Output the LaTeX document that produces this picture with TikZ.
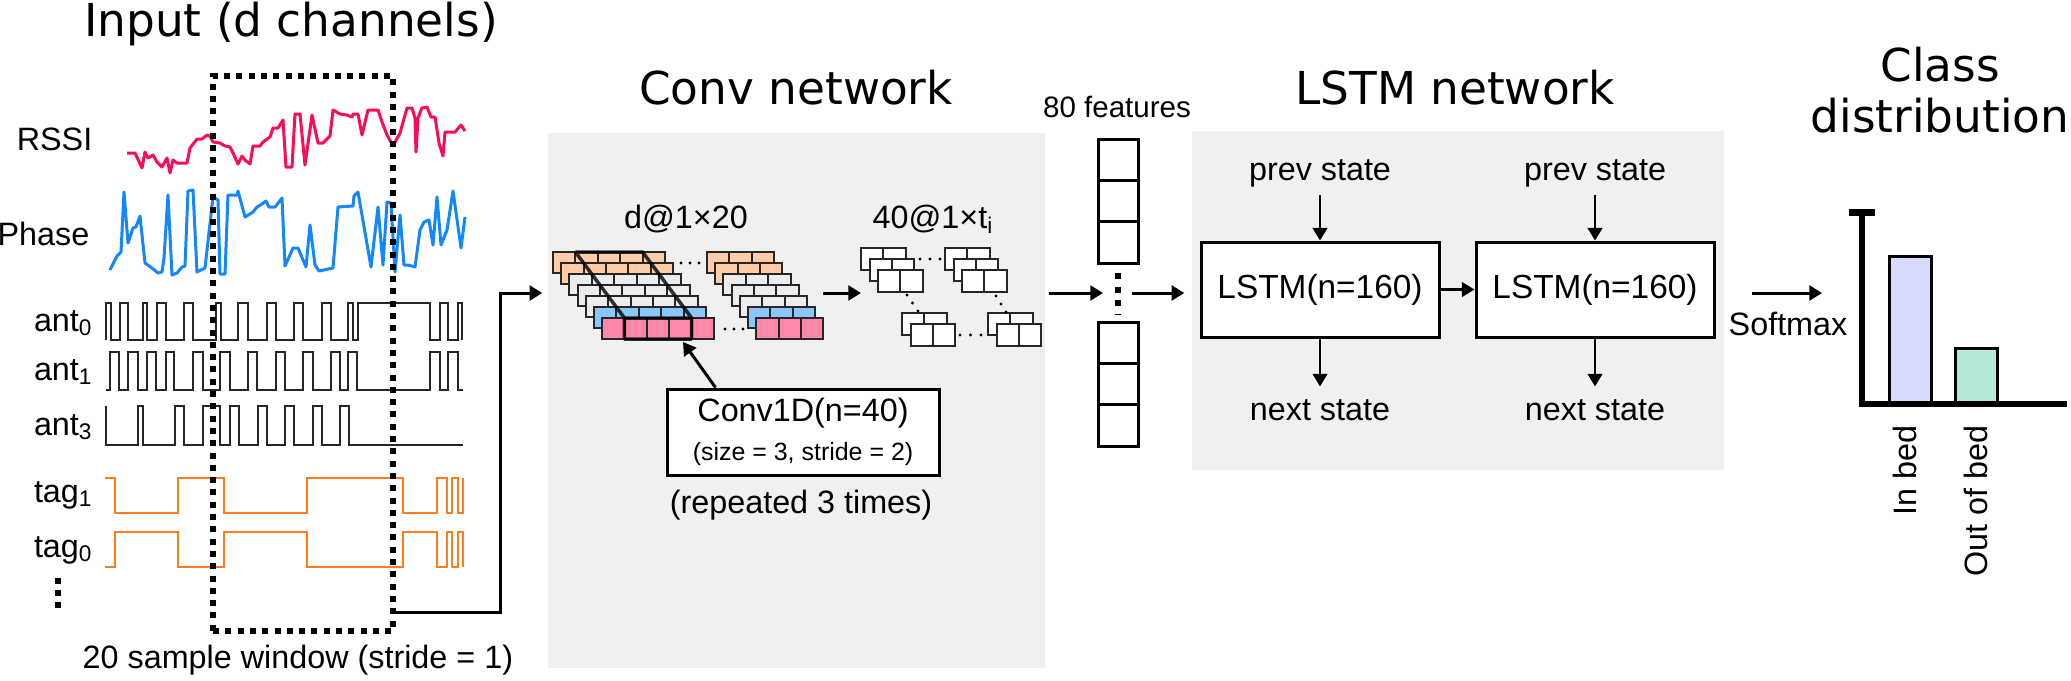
\documentclass[tikz,border=0pt]{standalone}
\usepackage{fontspec}
\setmainfont{Liberation Sans}
\newfontfamily\titlefont{DejaVu Sans}
\usetikzlibrary{arrows.meta,calc}
\definecolor{panelgrey}{RGB}{240,240,240}
\definecolor{rssired}{RGB}{255,10,85}
\definecolor{phaseblue}{RGB}{20,135,255}
\definecolor{tagorange}{RGB}{255,125,30}
\definecolor{corange}{RGB}{255,204,168}
\definecolor{cgrey}{RGB}{236,236,236}
\definecolor{cblue}{RGB}{136,200,255}
\definecolor{cpink}{RGB}{255,136,170}
\definecolor{barblue}{RGB}{216,220,250}
\definecolor{bargreen}{RGB}{180,234,214}
\tikzset{arr/.style={-{Triangle[length=3.6pt,width=4.2pt]}, line width=0.85pt}}
\tikzset{lbl/.style={inner sep=0, font=\fontsize{9.2}{11}\selectfont}}
\tikzset{ttl/.style={inner sep=0, anchor=base, font=\titlefont\fontsize{12.9}{15}\selectfont}}
\tikzset{panel/.style={fill=panelgrey, inner sep=0}}
\tikzset{cell/.style={draw=black!85, line width=0.2mm}}
\tikzset{kern/.style={draw=black, opacity=0.8, line width=0.35mm, line join=round}}
\tikzset{window/.style={draw, line width=0.6mm, dash pattern=on 0.6mm off 0.63mm}}
\tikzset{sqwave/.style={black!85, line width=0.2mm}}
\tikzset{tagwave/.style={tagorange, line width=0.2mm}}
\tikzset{lstmbox/.style={draw, fill=white, line width=0.3mm, minimum width=23.8mm, minimum height=9.5mm, inner sep=0, font=\fontsize{9.5}{11}\selectfont}}

\begin{document}
\begin{tikzpicture}[x=0.1mm, y=-0.1mm]
    \useasboundingbox (0,0) rectangle (2071,680);
    % grey panels
    \node [panel, minimum width=49.7mm, minimum height=53.5mm] (convbg) at (796.5,400.5) {};
    \node [panel, minimum width=53.2mm, minimum height=33.9mm] (lstmbg) at (1458,300.5) {};
    % titles
    \node [ttl] (tin) at (291,36) {Input (d channels)};
    \node [ttl] (tconv) at (796,104) {Conv network};
    \node [ttl] (tlstm) at (1455,104) {LSTM network};
    \node [ttl] (tcls1) at (1940,81) {Class};
    \node [ttl] (tcls2) at (1940,132) {distribution};
    % input channels
    \draw [rssired, line width=0.3mm, line join=round] plot coordinates {(127,153) (135,153) (142,168) (145,152) (148,158) (153,155) (157,162) (162,167) (167,158) (170,173) (173,160) (177,163) (187,163) (190,148) (197,139) (202,139) (207,135) (210,136) (213,142) (220,143) (225,146) (230,147) (233,153) (238,164) (242,156) (245,160) (250,164) (253,146) (260,146) (263,142) (270,137) (273,128) (278,128) (283,120) (286,167) (292,167) (295,114) (300,114) (305,165) (312,115) (318,143) (323,143) (330,136) (333,110) (340,114) (347,115) (352,117) (353,114) (358,114) (362,135) (368,110) (378,110) (382,122) (387,135) (393,146) (400,133) (407,108) (412,108) (415,118) (416,152) (418,118) (422,108) (427,107) (431,117) (435,117) (439,143) (443,156) (445,132) (455,132) (461,125) (465,131)};
    \draw [phaseblue, line width=0.3mm, line join=round] plot coordinates {(110,270) (117,256) (121,252) (124,192) (128,243) (133,228) (136,227) (140,216) (145,263) (152,268) (158,273) (162,272) (164,258) (168,195) (172,275) (177,273) (182,267) (185,266) (188,191) (193,190) (197,272) (205,268) (213,197) (218,200) (220,274) (225,274) (228,195) (237,195) (238,191) (245,217) (253,212) (257,207) (262,204) (266,201) (269,207) (275,207) (282,198) (285,266) (293,248) (298,248) (306,267) (310,225) (315,265) (319,271) (333,268) (338,207) (353,206) (354,196) (358,192) (371,267) (378,207) (383,265) (387,202) (391,203) (395,272) (400,215) (404,265) (408,265) (415,267) (420,230) (424,222) (429,220) (433,245) (437,197) (441,245) (447,230) (453,191) (461,248) (465,217)};
    \draw [sqwave] (106,340) \foreach \a/\b in {106/111,120/128,143/147,157/166,184/193,216/221,238/248,267/276,294/303,322/331,348/353,358/430,440/448,458/462} {-- (\a,340) -- (\a,303) -- (\b,303) -- (\b,340)};
    \draw [sqwave] (106,390) \foreach \a/\b in {110/119,128/138,147/156,166/174,193/203,220/230,248/257,276/285,303/313,331/340,348/357,430/440,448/458} {-- (\a,390) -- (\a,352) -- (\b,352) -- (\b,390)} -- (463,390);
    \draw [sqwave] (106,406) -- (106,445) \foreach \a/\b in {138/143,175/184,203/220,230/239,258/267,285/294,313/322,340/349} {-- (\a,445) -- (\a,406) -- (\b,406) -- (\b,445)} -- (463,445);
    \draw [tagwave] (105,478) -- (115,478) -- (115,513) -- (178,513) -- (178,478) -- (224,478) -- (224,513) -- (307,513) -- (307,478) -- (403,478) -- (403,513) -- (437,513) -- (437,478) -- (447,478) -- (447,513) -- (452,513) -- (452,478) -- (458,478) -- (458,513) -- (463,513) -- (463,478);
    \draw [tagwave] (105,567) -- (115,567) -- (115,532) -- (178,532) -- (178,567) -- (224,567) -- (224,532) -- (307,532) -- (307,567) -- (403,567) -- (403,532) -- (437,532) -- (437,567) -- (447,567) -- (447,532) -- (452,532) -- (452,567) -- (458,567) -- (458,532) -- (463,532) -- (463,567);
    \node [lbl, anchor=base east] (lrssi) at (93,150) {RSSI};
    \node [lbl, anchor=base east] (lphase) at (90,245) {Phase};
    \node [lbl, anchor=base east] (lant0) at (94,331) {ant\textsubscript{0}};
    \node [lbl, anchor=base east] (lant1) at (94,380) {ant\textsubscript{1}};
    \node [lbl, anchor=base east] (lant3) at (94,435) {ant\textsubscript{3}};
    \node [lbl, anchor=base east] (ltag1) at (94,502) {tag\textsubscript{1}};
    \node [lbl, anchor=base east] (ltag0) at (94,557) {tag\textsubscript{0}};
    \draw [line width=0.6mm, dash pattern=on 0.6mm off 0.6mm] (58,578) -- (58,610);
    % sliding window
    \node [window, minimum width=18mm, minimum height=55.5mm] (win) at (303,353.5) {};
    \node [lbl, anchor=base west] (lwin) at (82,668) {20 sample window (stride = 1)};
    \coordinate (wout) at (393,612);
    \coordinate (flow) at (0,293);
    \draw [arr] (wout) -- (500,612) |- ($(convbg.west |- flow)+(-5,0)$);
    % input maps and kernel
    \foreach \sx/\n in {553/4, 707/2}
        \foreach \k/\col in {0/corange,1/corange,2/cgrey,3/cgrey,4/cgrey,5/cblue,6/cpink}
            \foreach \j in {0,...,\n}
                \draw [cell, fill=\col] ({\sx+8.2*\k+22.4*\j},{252+11*\k}) rectangle ++(22.4,21);
    \draw [kern] (575.4,252) -- (642.6,252) -- (691.6,318) (575.4,252) -- (624.4,318) (624.4,318) rectangle (691.6,339);
    \foreach \i in {0,1,2} {
        \fill (681+9*\i,263) circle (0.16mm);
        \fill (725+9*\i,329) circle (0.16mm);
    }
    \node [lbl, anchor=base] (lin) at (686,228) {d@1×20};
    % feature maps
    \foreach \gx/\gy/\r in {861/248/2, 945/248/2, 902/313/1, 988/313/1}
        \foreach \k in {0,...,\r}
            \foreach \j in {0,1}
                \draw [cell, fill=white] ({\gx+8.5*\k+22.3*\j},{\gy+11*\k}) rectangle ++(22.3,22);
    \foreach \i in {0,1,2} {
        \fill (920+10*\i,259) circle (0.16mm);
        \fill (960+10.5*\i,335) circle (0.16mm);
        \fill (907+5.5*\i,295+8*\i) circle (0.16mm);
        \fill (996+5*\i,296+8*\i) circle (0.16mm);
    }
    \node [lbl, anchor=base west] (lmap) at (872,228) {40@1×t\textsubscript{i}};
    \coordinate (stkout) at (823,293);
    \coordinate (mapin) at (861,293);
    \draw [arr] (stkout) -- (mapin);
    % conv layer
    \node [draw, fill=white, line width=0.3mm, minimum width=27.2mm, minimum height=8.6mm, inner sep=0, align=center] (conv1d) at (803,432)
        {\fontsize{9.2}{10}\selectfont Conv1D(n=40)\\[-0.3mm]\fontsize{7.1}{10}\selectfont (size = 3, stride = 2)};
    \node [lbl, anchor=base] (lrep) at (801,513) {(repeated 3 times)};
    \coordinate (kerntip) at (683,342);
    \draw [arr] ($(conv1d.north west)+(50,0)$) -- (kerntip);
    % feature vector
    \foreach \y in {139,180.3,221.7,322,363.3,404.7}
        \draw [line width=0.3mm, fill=white] (1098,\y) rectangle ++(40,41.3);
    \draw [line width=0.55mm, dash pattern=on 0.6mm off 0.75mm] (1118,273) -- (1118,314);
    \node [lbl, anchor=base, font=\fontsize{8.4}{10}\selectfont] (lfeat) at (1117,117) {80 features};
    \coordinate (fmid) at (1118,293);
    \draw [arr] ($(convbg.east |- flow)+(3,0)$) -- ($(fmid)+(-15,0)$);
    \draw [arr] ($(fmid)+(14,0)$) -- ($(lstmbg.west |- flow)+(-7,0)$);
    % LSTM layers
    \node [lstmbox] (lstm1) at (1320,289.5) {LSTM(n=160)};
    \node [lstmbox] (lstm2) at (1595,289.5) {LSTM(n=160)};
    \node [lbl, anchor=base] (prev1) at (1320,180) {prev state};
    \node [lbl, anchor=base] (prev2) at (1595,180) {prev state};
    \node [lbl, anchor=base] (next1) at (1320,420) {next state};
    \node [lbl, anchor=base] (next2) at (1595,420) {next state};
    \draw [arr, line width=0.6pt] (lstm1) -- (lstm2);
    \foreach \m in {1,2} {
        \draw [arr, line width=0.6pt] ([yshift=-0.8mm]prev\m.south) -- (lstm\m);
        \draw [arr, line width=0.6pt] (lstm\m) -- ([yshift=1.2mm]next\m.north);
    }
    % softmax and classes
    \coordinate (smin) at (1752,293);
    \coordinate (smout) at (1822,293);
    \draw [arr] (smin) -- (smout);
    \node [lbl, anchor=base] (lsoft) at (1788,335) {Softmax};
    \draw [line width=0.7mm] (1849,212) -- (1875,212);
    \draw [line width=0.6mm] (1862,209) -- (1862,404) -- (2067,404);
    \draw [line width=0.3mm, fill=barblue] (1889,256) rectangle (1931,402);
    \draw [line width=0.3mm, fill=bargreen] (1955,348) rectangle (1997,402);
    \node [lbl, rotate=90, anchor=east] (linbed) at (1905,425) {In bed};
    \node [lbl, rotate=90, anchor=east] (loutbed) at (1976,425) {Out of bed};
\end{tikzpicture}
\end{document}
